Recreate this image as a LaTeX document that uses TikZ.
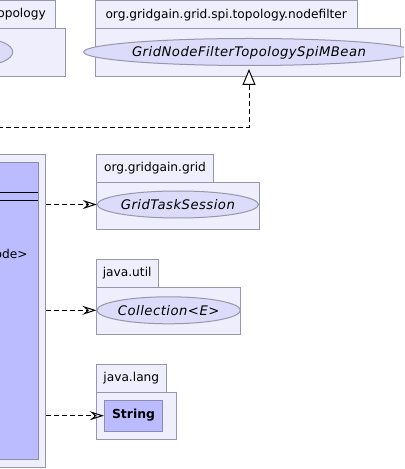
\documentclass[tikz,border=0pt]{standalone}
\usepackage{fontspec}
\setmainfont{DejaVu Sans}
\newfontfamily\oblfont{DejaVu Sans}[LetterSpace=3.6]
\usetikzlibrary{arrows.meta,shapes.geometric}
\definecolor{pkgfill}{RGB}{238,238,252}
\definecolor{pkgline}{RGB}{150,150,172}
\definecolor{ellfill}{RGB}{220,220,250}
\definecolor{clsfill}{RGB}{187,187,255}
\definecolor{clsline}{RGB}{140,140,175}
\begin{document}
\begin{tikzpicture}[x=1bp,y=-1bp,
  pkg/.style={draw=pkgline,fill=pkgfill,line width=1bp},
  pkgnode/.style={pkg,rectangle,inner sep=0pt},
  tabtext/.style={anchor=base,inner sep=0pt,font=\fontsize{12.2bp}{14bp}\selectfont},
  iface/.style={ellipse,draw=pkgline,fill=ellfill,line width=1bp,inner sep=0pt,
    minimum height=27bp,text height=9.6bp,text depth=0pt,
    font=\fontsize{13.2bp}{15bp}\selectfont\oblfont\itshape},
  clsbox/.style={rectangle,draw=clsline,fill=clsfill,line width=1bp,inner sep=0pt,
    text height=9bp,text depth=3bp,font=\fontsize{12.4bp}{14bp}\selectfont\bfseries},
  dep/.style={draw=black,line width=1bp,dash pattern=on 5bp off 3bp,
    -{Stealth[open,length=14bp,width=9bp,inset=5bp]}},
  real/.style={draw=black,line width=1bp,dash pattern=on 5bp off 3bp,
    -{Triangle[open,fill=white,length=16bp,width=13bp]}}
]
\useasboundingbox (0,0) rectangle (404,469);
\clip (0,0) rectangle (404,469);

% left package (cut off)
\draw[pkg] (-200,1) rectangle (55.7,29);
\draw[pkg] (-200,29) rectangle (65,76.7);
\node[tabtext,anchor=base east] (topolbl) at (46,18) {opology};
\node[iface,minimum width=64bp] (topoiface) at (-19.3,52) {};

% org.gridgain.grid.spi.topology.nodefilter
\draw[pkg] (95.3,1) rectangle (357,29);
\draw[pkg] (95.3,29) rectangle (400.7,76.7);
\node[tabtext] (nflbl) at (226.2,18.2) {org.gridgain.grid.spi.topology.nodefilter};
\node[iface,minimum width=292bp] (mbean) at (249,52) {GridNodeFilterTopologySpiMBean};

% org.gridgain.grid
\draw[pkg] (96.3,154.3) rectangle (213.7,182.3);
\draw[pkg] (96.3,182.3) rectangle (259.3,229.3);
\node[tabtext] (gridlbl) at (155,171.7) {org.gridgain.grid};
\node[iface,minimum width=147.7bp] (session) at (177.85,204.5) {GridTaskSession};

% java.util
\draw[pkg] (96.3,259.3) rectangle (158,287.3);
\draw[pkg] (96.3,287.3) rectangle (240.7,334.3);
\node[tabtext] (utillbl) at (127.15,276.7) {java.util};
\node[iface,minimum width=129.3bp] (coll) at (168.65,310.3) {Collection<E>};

% java.lang
\draw[pkg] (96.3,364.3) rectangle (166.3,392.3);
\draw[pkg] (96.3,392.3) rectangle (176.3,439);
\node[tabtext] (langlbl) at (131.3,381.7) {java.lang};
\node[clsbox,minimum width=58.4bp,minimum height=30.7bp] (string) at (133.5,415.7) {String};

% big class (cut off)
\node[pkgnode,anchor=north east,minimum width=70bp,minimum height=312.7bp] (outer) at (46.3,154.3) {};
\node[clsbox,anchor=north east,minimum width=65bp,minimum height=297bp] (cls) at (39,162.3) {};
\draw[black,line width=1bp] (-10,192.3) -- (38,192.3);
\draw[black,line width=1bp] (-10,201) -- (38,201);
\node[tabtext,anchor=base east] (clsattr) at (27.7,258) {ode>};

% connectors
\coordinate (realsrc) at (-10,127.3);
\draw[real,shorten >=3bp] (realsrc) -| (mbean.south);
\draw[dep] (outer.east |- session.west) -- (session.west);
\draw[dep] (outer.east |- coll.west) -- (coll.west);
\draw[dep] (outer.east |- string.west) -- (string.west);
\end{tikzpicture}
\end{document}
